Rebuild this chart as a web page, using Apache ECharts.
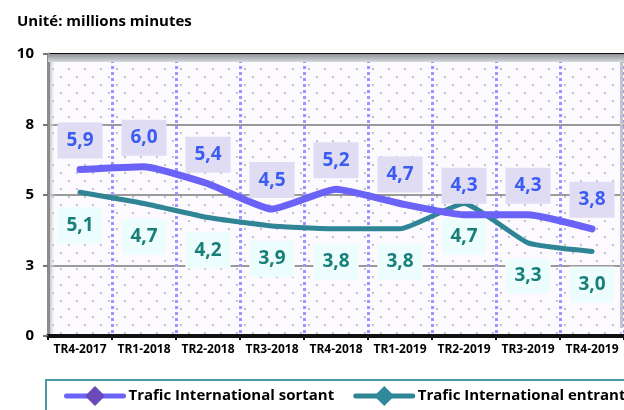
<!DOCTYPE html>
<html>
<head>
<meta charset="utf-8">
<script src="https://cdn.jsdelivr.net/npm/echarts@6/dist/echarts.min.js"></script>
<style>
  html, body { margin: 0; padding: 0; background: #fff; }
  #chart { width: 624px; height: 410px; }
</style>
</head>
<body>
<div id="chart"></div>
<script>
const categories = ['TR4-2017', 'TR1-2018', 'TR2-2018', 'TR3-2018', 'TR4-2018', 'TR1-2019', 'TR2-2019', 'TR3-2019', 'TR4-2019']
const sortant = [5.9, 6.0, 5.4, 4.5, 5.2, 4.7, 4.3, 4.3, 3.8]
const entrant = [5.1, 4.7, 4.2, 3.9, 3.8, 3.8, 4.7, 3.3, 3.0]
const yTickLabels = ['0', '3', '5', '8', '10']

const fontFamily = '"Open Sans", "Noto Sans", sans-serif'

// dotted plot background
const patternCanvas = document.createElement('canvas')
patternCanvas.width = 16
patternCanvas.height = 16
const pctx = patternCanvas.getContext('2d')
pctx.fillStyle = '#fcfaff'
pctx.fillRect(0, 0, 16, 16)
pctx.fillStyle = '#c2c0cc'
pctx.fillRect(4, 4, 2, 2)
pctx.fillRect(12, 12, 2, 2)

const fmt = v => v.toFixed(1).replace('.', ',')

const chart = echarts.init(document.getElementById('chart'), null, { renderer: 'canvas' })

const option = {
  animation: false,
  title: {
    text: 'Unité: millions minutes',
    left: 12,
    top: 9,
    textStyle: { fontFamily, fontSize: 15, fontWeight: 'bold', color: '#000' }
  },
  grid: {
    left: 48,
    top: 54,
    width: 585,
    height: 282,
    show: true,
    borderWidth: 0,
    backgroundColor: { image: patternCanvas, repeat: 'repeat' }
  },
  legend: {
    left: 46,
    top: 380,
    width: 900,
    padding: [6, 10, 10, 18],
    borderColor: '#4a98a6',
    borderWidth: 2,
    itemWidth: 57,
    itemHeight: 25,
    itemGap: 19,
    textStyle: { fontFamily, fontSize: 15, fontWeight: 'bold', color: '#000' },
    data: [
      { name: 'Trafic International sortant', itemStyle: { color: '#6a4ab8', opacity: 1 }, lineStyle: { width: 5 } },
      { name: 'Trafic International entrant', itemStyle: { color: '#2f8a9c', opacity: 1 }, lineStyle: { width: 5 } }
    ]
  },
  xAxis: {
    type: 'category',
    data: categories,
    boundaryGap: true,
    axisLine: { lineStyle: { color: '#111', width: 4 } },
    axisTick: { show: true, length: 4, interval: 0, lineStyle: { color: '#111', width: 2 } },
    axisLabel: { fontFamily, fontSize: 12, fontWeight: 'bold', color: '#000', margin: 8, interval: 0 },
    splitLine: { show: true, interval: 0, lineStyle: { color: '#9a98ff', width: 3, type: [3, 3] } }
  },
  yAxis: {
    type: 'value',
    min: 0,
    max: 10,
    interval: 2.5,
    axisLine: { show: true, lineStyle: { color: '#8c8c8c', width: 3 } },
    axisTick: { show: true, length: 5, lineStyle: { color: '#777', width: 2 } },
    axisLabel: {
      fontFamily, fontSize: 15, fontWeight: 'bold', color: '#000', margin: 14,
      formatter: v => yTickLabels[Math.round(v / 2.5)]
    },
    splitLine: { lineStyle: { color: ['#9a9a9a', '#9a9a9a', '#9a9a9a', '#9a9a9a', '#111'], width: 2 } }
  },
  graphic: [
    {
      type: 'rect', left: 50, top: 56, z: 1, silent: true,
      shape: { width: 5, height: 278 },
      style: { fill: new echarts.graphic.LinearGradient(0, 0, 1, 0, [{ offset: 0, color: '#c8c8c8' }, { offset: 1, color: 'rgba(230,230,230,0)' }]) }
    },
    {
      type: 'rect', left: 620, top: 56, z: 1, silent: true,
      shape: { width: 3, height: 272 },
      style: { fill: '#c4c4c4' }
    }
  ],
  series: [
    {
      name: 'Trafic International sortant',
      type: 'line',
      data: sortant,
      smooth: 0.15,
      symbol: 'diamond',
      symbolSize: 0,
      showSymbol: true,
      lineStyle: { color: '#6b62f8', width: 7, cap: 'round' },
      itemStyle: { color: '#6b62f8' },
      label: {
        show: true,
        position: 'top',
        distance: 11,
        formatter: p => fmt(p.value),
        fontFamily, fontSize: 19, fontWeight: 'bold', color: '#3b5cf0',
        backgroundColor: '#e0dcf4',
        padding: [8, 9],
        lineHeight: 20
      },
      labelLayout: { hideOverlap: false },
      markArea: {
        silent: true,
        itemStyle: {
          color: new echarts.graphic.LinearGradient(0, 0, 0, 1, [{ offset: 0, color: '#8e9296' }, { offset: 1, color: '#d6d8da' }])
        },
        data: [[{ yAxis: 9.72 }, { yAxis: 10 }]]
      },
      z: 3
    },
    {
      name: 'Trafic International entrant',
      type: 'line',
      data: entrant,
      smooth: 0.15,
      symbol: 'diamond',
      symbolSize: 0,
      showSymbol: true,
      lineStyle: { color: '#2f8595', width: 5, cap: 'round' },
      itemStyle: { color: '#2f8595' },
      label: {
        show: true,
        position: 'bottom',
        distance: 15,
        formatter: p => fmt(p.value),
        fontFamily, fontSize: 19, fontWeight: 'bold', color: '#167f78',
        backgroundColor: '#edfdfd',
        padding: [8, 9],
        lineHeight: 20
      },
      labelLayout: { hideOverlap: false },
      z: 2
    }
  ]
}

chart.setOption(option)
</script>
</body>
</html>
